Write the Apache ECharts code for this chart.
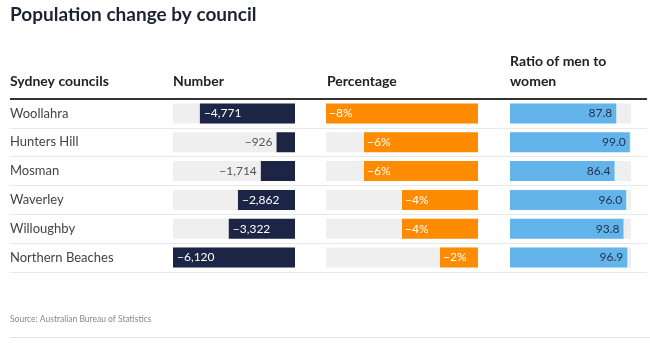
<!DOCTYPE html>
<html>
<head>
<meta charset="utf-8">
<script src="https://cdn.jsdelivr.net/npm/echarts@6/dist/echarts.min.js"></script>
<style>
html,body{margin:0;padding:0;background:#fff;}
#chart{width:650px;height:343px;}
</style>
</head>
<body>
<div id="chart"></div>
<script>
const councils = ['Woollahra', 'Hunters Hill', 'Mosman', 'Waverley', 'Willoughby', 'Northern Beaches'];
const numberChange = [-4771, -926, -1714, -2862, -3322, -6120];
const percentChange = [-8, -6, -6, -4, -4, -2];
const ratioMenWomen = [87.8, 99.0, 86.4, 96.0, 93.8, 96.9];
const headers = ['Sydney councils', 'Number', 'Percentage', 'Ratio of men to\nwomen'];

const FONT = 'Lato';
const NAVY = '#1c2546';
const ORANGE = '#ff8c00';
const BLUE = '#62b4ea';
const BG = '#efefef';
const TOP = 99, H = 173;

function fmtNum(v) { return '\u2212' + Math.abs(v).toLocaleString('en-US'); }

const numberData = numberChange.map(v => {
  const inside = Math.abs(v) >= 2000;
  return {
    value: v,
    label: inside
      ? { show: true, position: 'insideLeft', distance: 4, color: '#fff' }
      : { show: true, position: 'left', distance: 4, color: '#555' }
  };
});

const chart = echarts.init(document.getElementById('chart'), null, { renderer: 'canvas' });

const catAxis = (gi, extra) => Object.assign({
  type: 'category', gridIndex: gi, data: councils, inverse: true,
  axisLine: { show: false }, axisTick: { show: false }, axisLabel: { show: false },
  splitLine: { show: false }
}, extra || {});

chart.setOption({
  animation: false,
  textStyle: { fontFamily: FONT },
  grid: [
    { left: 10, width: 637, top: TOP, height: H },
    { left: 173, width: 122, top: TOP, height: H },
    { left: 326, width: 152, top: TOP, height: H },
    { left: 510, width: 121, top: TOP, height: H }
  ],
  xAxis: [
    { type: 'value', gridIndex: 0, min: 0, max: 1, show: false },
    { type: 'value', gridIndex: 1, min: -6120, max: 0, show: false },
    { type: 'value', gridIndex: 2, min: -8, max: 0, show: false },
    { type: 'value', gridIndex: 3, min: 0, max: 100, show: false }
  ],
  yAxis: [
    catAxis(0, {
      axisLabel: { show: true, inside: true, margin: 0, color: '#444', fontSize: 13, fontFamily: FONT },
      splitLine: { show: true, interval: 0, lineStyle: { color: '#e8e8e8', width: 1 } }
    }),
    catAxis(1), catAxis(2), catAxis(3)
  ],
  series: [
    {
      type: 'bar', xAxisIndex: 1, yAxisIndex: 1, barWidth: 20,
      showBackground: true, backgroundStyle: { color: BG },
      itemStyle: { color: NAVY },
      label: { fontSize: 12, fontFamily: FONT, formatter: p => fmtNum(p.value) },
      data: numberData
    },
    {
      type: 'bar', xAxisIndex: 2, yAxisIndex: 2, barWidth: 20,
      showBackground: true, backgroundStyle: { color: BG },
      itemStyle: { color: ORANGE },
      label: { show: true, position: 'insideLeft', distance: 3, color: '#fff', fontSize: 12, fontFamily: FONT,
        formatter: p => '\u2212' + Math.abs(p.value) + '%' },
      data: percentChange
    },
    {
      type: 'bar', xAxisIndex: 3, yAxisIndex: 3, barWidth: 20,
      showBackground: true, backgroundStyle: { color: BG },
      itemStyle: { color: BLUE },
      label: { show: true, position: 'insideRight', distance: 4, color: '#26324f', fontSize: 12, fontFamily: FONT,
        formatter: p => p.value.toFixed(1) },
      data: ratioMenWomen
    }
  ],
  graphic: [
    { type: 'text', left: 10, top: 5, style: { text: 'Population change by council', fill: '#1a2233', font: 'bold 19px ' + FONT } },
    { type: 'text', x: 10, y: 81, style: { text: headers[0], fill: '#222', font: 'bold 14px ' + FONT, textVerticalAlign: 'middle' } },
    { type: 'text', x: 173, y: 81, style: { text: headers[1], fill: '#222', font: 'bold 14px ' + FONT, textVerticalAlign: 'middle' } },
    { type: 'text', x: 327, y: 81, style: { text: headers[2], fill: '#222', font: 'bold 14px ' + FONT, textVerticalAlign: 'middle' } },
    { type: 'text', x: 510, y: 51, style: { text: headers[3], fill: '#222', font: 'bold 14px ' + FONT, lineHeight: 20 } },
    { type: 'line', shape: { x1: 10, y1: 99, x2: 647, y2: 99 }, style: { stroke: '#333', lineWidth: 2 }, z: 100 },
    { type: 'text', x: 10, y: 319, style: { text: 'Source: Australian Bureau of Statistics', fill: '#888', font: '8.5px ' + FONT, textVerticalAlign: 'middle' } },
    { type: 'line', shape: { x1: 10, y1: 337.5, x2: 650, y2: 337.5 }, style: { stroke: '#e2e2e2', lineWidth: 1 } }
  ]
});
</script>
</body>
</html>
